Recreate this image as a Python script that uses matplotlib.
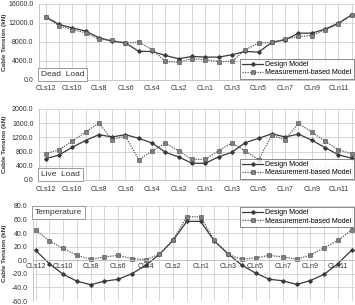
import numpy as np
import matplotlib
matplotlib.use("Agg")
import matplotlib.pyplot as plt

plt.rcParams['font.family'] = ['Liberation Sans', 'DejaVu Sans']

# cable names, south side then north side
cables = ["CLs%d" % i for i in range(12, 0, -1)] + ["CLn%d" % i for i in range(1, 13)]

dead_design = [13300, 11700, 10950, 10300, 8900, 8150, 7800, 6000, 6000, 5150, 4450, 4950,
               4800, 4800, 5300, 6000, 5850, 7900, 8450, 9850, 9850, 10700, 11950, 13700]
dead_meas = [13300, 11450, 10550, 9950, 8550, 8350, 7750, 7950, 6400, 3900, 3750, 4450,
             4250, 3850, 3900, 6350, 7750, 7900, 8600, 9150, 9350, 10550, 11750, 13700]

live_design = [600, 700, 920, 1110, 1275, 1210, 1275, 1170, 1040, 780, 645, 470,
               470, 650, 780, 1050, 1170, 1300, 1210, 1290, 1120, 910, 710, 610]
live_meas = [740, 845, 1090, 1350, 1600, 1135, 1230, 570, 815, 1040, 815, 580,
             580, 825, 1040, 815, 570, 1260, 1135, 1590, 1350, 1090, 845, 740]

temp_design = [14.4, -5.3, -20.7, -30.8, -36.0, -30.8, -28.0, -19.7, -7.7, 8.7, 29.3, 57.2,
               57.2, 28.4, 9.6, -7.2, -18.8, -27.9, -30.3, -35.6, -29.8, -20.7, -4.8, 14.9]
temp_meas = [44.3, 28.4, 17.3, 7.2, 1.4, 4.8, 7.2, 2.4, 1.0, 8.7, 30.3, 64.0,
             64.0, 29.3, 8.7, 1.4, 3.4, 7.2, 4.8, 1.4, 7.7, 18.3, 29.3, 44.7]

W, H = 355, 305
fig = plt.figure(figsize=(W / 100, H / 100), dpi=100)

x = np.arange(len(cables))
FS = 5


def panel(rect, design, meas, ylim, ystep, xlim, title, legloc, zero_axis=False):
    ax = fig.add_axes(rect)
    ax.plot(x, design, color="#3a3a3a", lw=0.9, marker="D", ms=1.8,
            label="Design Model")
    ax.plot(x, meas, color="#555555", lw=0.9, ls=(0, (1, 1)), marker="s", ms=2.6,
            mfc="#7f7f7f", mec="#4a4a4a", mew=0.4, label="Measurement-based Model")
    ax.set_xlim(*xlim)
    ax.set_ylim(*ylim)
    ax.set_yticks(np.arange(ylim[0], ylim[1] + ystep / 2, ystep))
    ax.yaxis.set_major_formatter(matplotlib.ticker.FormatStrFormatter("%.1f"))
    ax.set_xticks(x[::2])
    ax.set_xticklabels(cables[::2])
    ax.set_xticks(x, minor=True)
    ax.grid(True, which="both", axis="x", color="#d0d0d0", lw=0.6)
    ax.grid(True, which="major", axis="y", color="#d0d0d0", lw=0.6)
    ax.set_axisbelow(True)
    ax.tick_params(length=0, which="both", labelsize=FS, colors="#333333", pad=4)
    for s in ["top", "right"]:
        ax.spines[s].set_visible(False)
    ax.spines["left"].set_color("#bfbfbf")
    ax.spines["left"].set_linewidth(0.6)
    ax.spines["bottom"].set_color("#bfbfbf")
    ax.spines["bottom"].set_linewidth(0.6)
    if zero_axis:
        ax.spines["bottom"].set_position(("data", 0))
        ax.tick_params(axis="x", pad=2)
    ax.set_ylabel("Cable Tension (kN)", fontsize=4.6, fontweight="bold", color="#333333")
    # y label sits at about x = 7 px in the figure
    ax.yaxis.set_label_coords((7 / W - rect[0]) / rect[2], 0.5)
    ax.text(0.006 if zero_axis else 0.006, 0.97 if zero_axis else 0.03, title,
            transform=ax.transAxes, fontsize=6, color="#333333",
            va="top" if zero_axis else "bottom", ha="left",
            bbox=dict(boxstyle="square,pad=0.35", fc="white", ec="#8c8c8c", lw=0.6))
    leg = ax.legend(loc=legloc, fontsize=FS, frameon=True, fancybox=False,
                    borderaxespad=0.2, handlelength=3, handletextpad=0.3,
                    borderpad=0.3, labelspacing=0.2)
    leg.get_frame().set_edgecolor("#555555")
    leg.get_frame().set_linewidth(0.6)
    return ax


left12 = 39 / W
panel([left12, 0.738, 1 - left12, 0.249], dead_design, dead_meas, (0, 16000), 4000,
      (-0.5, 23.25), "Dead  Load", "lower right")
panel([left12, 0.410, 1 - left12, 0.233], live_design, live_meas, (0, 2000), 400,
      (-0.5, 23.25), "Live  Load", "lower right")
left3 = 33 / W
panel([left3, 0.013, 1 - left3, 0.312], temp_design, temp_meas, (-60, 80), 20,
      (-0.2, 23.24), "Temperature", "upper right", zero_axis=True)

fig.savefig("out.png", dpi=100)
